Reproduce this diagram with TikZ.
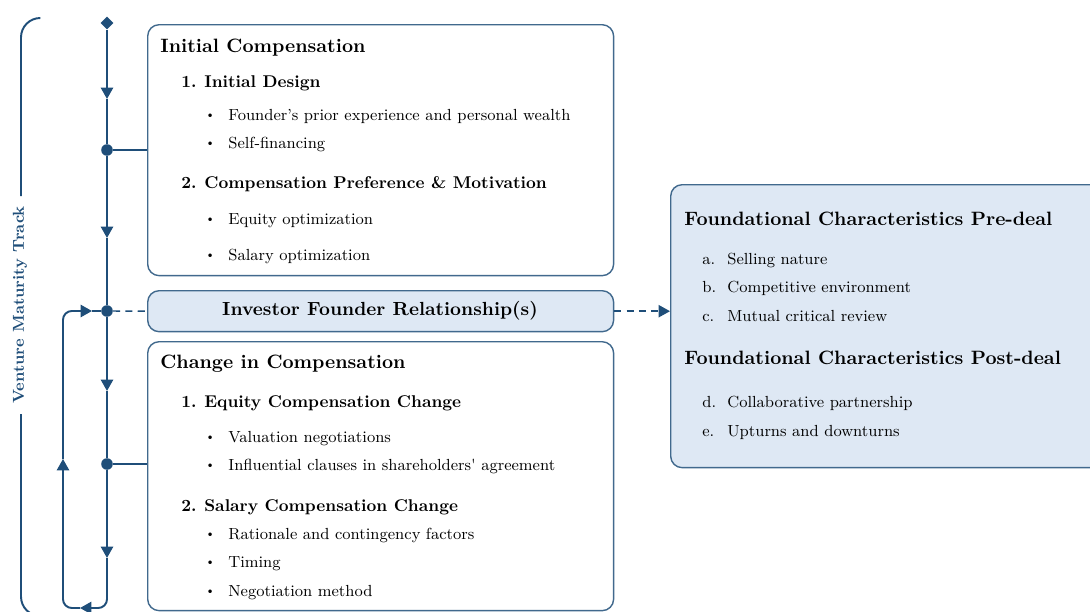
\documentclass[tikz,border=0pt]{standalone}
\usepackage{fontspec}
\setmainfont{Latin Modern Roman}
\usetikzlibrary{arrows.meta, positioning, shapes.geometric}

\definecolor{trackblue}{HTML}{1F4E79}
\definecolor{panelblue}{HTML}{DEE8F4}

\newcommand{\itemlbl}[2][0.46cm]{\makebox[#1][l]{#2}}
\newcommand{\smallbullet}{\raisebox{0.15ex}{\scalebox{0.75}{\textbullet}}}

\begin{document}
\begin{tikzpicture}[
  x=0.02cm, y=-0.02cm,
  panel/.style={rectangle, rounded corners=6.5pt, draw=trackblue!85, line width=0.8pt, fill=white, anchor=north west, inner sep=0pt},
  shaded/.style={panel, fill=panelblue},
  title/.style={anchor=base west, inner sep=0pt, font=\fontsize{11}{13}\selectfont\bfseries},
  subtitle/.style={anchor=base west, inner sep=0pt, font=\fontsize{9.7}{12}\selectfont\bfseries},
  entry/.style={anchor=base west, inner sep=0pt, font=\fontsize{9.15}{11}\selectfont},
  flow/.style={draw=trackblue, line width=1.1pt},
  tip/.style={-{Triangle[width=7pt,length=6.5pt]}},
  dot/.style={circle, fill=trackblue, inner sep=0pt, minimum size=6.6pt},
  track/.style={rotate=90, text=trackblue, font=\fontsize{9}{11}\selectfont\bfseries}
]

\clip (0,0) rectangle (1090,612);

% Panels
\node[panel, minimum width=9.32cm, minimum height=5.02cm] (initial) at (147,24) {};
\node[shaded, minimum width=9.32cm, minimum height=0.82cm] (rel) at (147,290) {};
\node[panel, minimum width=9.32cm, minimum height=5.38cm] (change) at (147,341) {};
\node[shaded, minimum width=8.8cm, minimum height=5.66cm] (found) at (670,184) {};

% Initial compensation texts
\node[title] (initT) at (160,52) {Initial Compensation};
\node[subtitle] (initA) at (181,88) {\itemlbl{1.}Initial Design};
\node[entry] (initA1) at (205,120) {\itemlbl{\smallbullet}Founder's prior experience and personal wealth};
\node[entry] (initA2) at (205,148) {\itemlbl{\smallbullet}Self-financing};
\node[subtitle] (initB) at (181,188) {\itemlbl{2.}Compensation Preference \& Motivation};
\node[entry] (initB1) at (205,224) {\itemlbl{\smallbullet}Equity optimization};
\node[entry] (initB2) at (205,260) {\itemlbl{\smallbullet}Salary optimization};

\node[font=\fontsize{10.8}{13}\selectfont\bfseries] (relT) at (380,311) {Investor Founder Relationship(s)};

% Change in compensation texts
\node[title] (chgT) at (160,368) {Change in Compensation};
\node[subtitle] (chgA) at (181,407) {\itemlbl{1.}Equity Compensation Change};
\node[entry] (chgA1) at (205,442) {\itemlbl{\smallbullet}Valuation negotiations};
\node[entry] (chgA2) at (205,470) {\itemlbl{\smallbullet}Influential clauses in shareholders\textquotesingle\ agreement};
\node[subtitle] (chgB) at (181,511) {\itemlbl{2.}Salary Compensation Change};
\node[entry] (chgB1) at (205,539) {\itemlbl{\smallbullet}Rationale and contingency factors};
\node[entry] (chgB2) at (205,567) {\itemlbl{\smallbullet}Timing};
\node[entry] (chgB3) at (205,596) {\itemlbl{\smallbullet}Negotiation method};

% Foundational characteristics texts
\node[title] (preT) at (684,225) {Foundational Characteristics Pre-deal};
\node[entry] (preA) at (702,264) {\itemlbl[0.5cm]{a.}Selling nature};
\node[entry] (preB) at (702,292) {\itemlbl[0.5cm]{b.}Competitive environment};
\node[entry] (preC) at (702,321) {\itemlbl[0.5cm]{c.}Mutual critical review};
\node[title] (postT) at (684,364) {Foundational Characteristics Post-deal};
\node[entry] (postD) at (702,407) {\itemlbl[0.5cm]{d.}Collaborative partnership};
\node[entry] (postE) at (702,436) {\itemlbl[0.5cm]{e.}Upturns and downturns};

% Track
\node[track] (trackT) at (20,305) {Venture Maturity Track};
\node[diamond, fill=trackblue, inner sep=0pt, minimum size=7.5pt, shape aspect=1] (start) at (107,23) {};
\node[dot] (dot1) at (107,150) {};
\node[dot] (dot2) at (107,311) {};
\node[dot] (dot3) at (107,464) {};

\coordinate (tip1) at (107,99);
\coordinate (tip2) at (107,238);
\coordinate (tip3) at (107,391);
\coordinate (tip4) at (107,558);
\coordinate (loopSE) at (107,608);
\coordinate (loopSW) at (63,608);
\coordinate (loopNW) at (63,311);
\coordinate (back1) at (80,608);
\coordinate (back2) at (63,459);
\coordinate (back3) at (92,311);

% Arrows
\draw[flow, tip] (start) -- (tip1);
\draw[flow] (tip1) -- (dot1);
\draw[flow, tip] (dot1) -- (tip2);
\draw[flow] (tip2) -- (dot2);
\draw[flow, tip] (dot2) -- (tip3);
\draw[flow] (tip3) -- (dot3);
\draw[flow, tip] (dot3) -- (tip4);
\draw[flow, tip, rounded corners=5pt] (tip4) -- (loopSE) -- (back1);
\draw[flow, tip, rounded corners=5pt] (back1) -- (loopSW) -- (back2);
\draw[flow, tip, rounded corners=5pt] (back2) -- (loopNW) -- (back3);
\draw[flow] (back3) -- (dot2);

\draw[flow, line width=0.8pt] (dot1) -- (dot1 -| initial.west);
\draw[flow, line width=0.8pt] (dot3) -- (dot3 -| change.west);
\draw[flow, line width=0.8pt, dash pattern=on 4pt off 3pt] (dot2) -- (rel.west);
\draw[flow, line width=0.8pt, dash pattern=on 4pt off 3pt, tip] (rel.east) -- (rel.east -| found.west);

% Bracket
\draw[flow, rounded corners=11pt] (40,18) -- (21,18) -- (21,196);
\draw[flow, rounded corners=11pt] (21,414) -- (21,616) -- (45,616);

\end{tikzpicture}
\end{document}
